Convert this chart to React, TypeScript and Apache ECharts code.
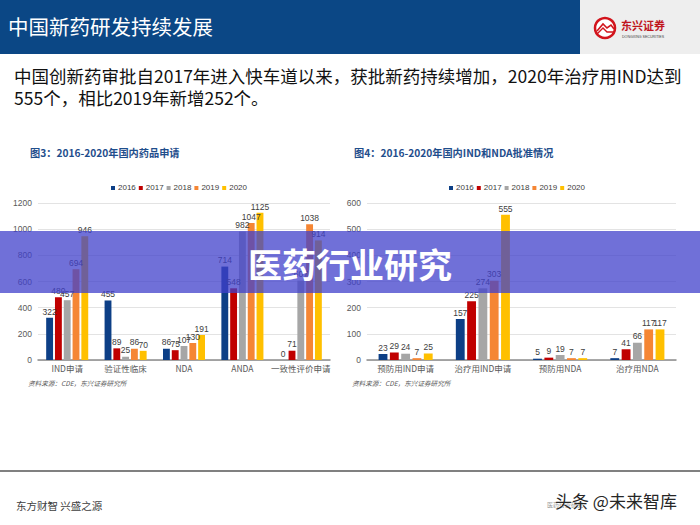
import React, { useEffect, useRef } from "react";
import * as echarts from "echarts";

// 图3：2016-2020年国内药品申请
const appCategories = ["IND申请", "验证性临床", "NDA", "ANDA", "一致性评价申请"];
const app2016 = [322, 455, 86, 714, 0];
const app2017 = [480, 89, 75, 548, 71];
const app2018 = [457, 25, 107, 982, 607];
const app2019 = [694, 86, 130, 1047, 1038];
const app2020 = [946, 70, 191, 1125, 914];

// 图4：2016-2020年国内IND和NDA批准情况
const apprCategories = ["预防用IND申请", "治疗用IND申请", "预防用NDA", "治疗用NDA"];
const appr2016 = [23, 157, 5, 7];
const appr2017 = [29, 225, 9, 41];
const appr2018 = [24, 274, 19, 66];
const appr2019 = [7, 303, 7, 117];
const appr2020 = [25, 555, 7, 117];

const years = ["2016", "2017", "2018", "2019", "2020"];
const yearColors = ["#0d3f86", "#c00000", "#a6a6a6", "#f58634", "#ffc000"];

const SANS = "'Liberation Sans', 'Noto Sans CJK SC', sans-serif";
const CJK = "'Noto Sans CJK SC', sans-serif";

function barSeries(name: string, data: number[], color: string, idx: number) {
  return {
    type: "bar",
    name,
    data,
    xAxisIndex: idx,
    yAxisIndex: idx,
    barGap: "28%",
    barCategoryGap: idx === 0 ? "28%" : "30%",
    itemStyle: { color },
    label: {
      show: true,
      position: "top",
      distance: 2,
      fontSize: 8.5,
      color: "#404040",
      fontFamily: SANS,
    },
  };
}

function buildOption() {
  const appData = [app2016, app2017, app2018, app2019, app2020];
  const apprData = [appr2016, appr2017, appr2018, appr2019, appr2020];

  const axisCommon = {
    axisLine: { lineStyle: { color: "#8c8c8c", width: 1.5 } },
    axisTick: { show: false },
    axisLabel: { fontSize: 8.5, color: "#595959", fontFamily: CJK, margin: 4, interval: 0 },
  };
  const valueAxisCommon = {
    type: "value",
    axisLine: { show: false },
    axisTick: { show: false },
    splitLine: { lineStyle: { color: "#e3e3e3", width: 1 } },
    axisLabel: {
      fontSize: 8.5,
      color: "#595959",
      fontFamily: SANS,
      margin: 6,
      formatter: (v: number) => String(v),
    },
  };

  const legendCommon = {
    data: years,
    orient: "horizontal",
    top: 179,
    itemWidth: 4,
    itemHeight: 4,
    itemGap: 3,
    icon: "rect",
    selectedMode: false,
    textStyle: { fontSize: 8, color: "#404040", fontFamily: SANS, padding: [0, 0, 0, -2] },
  };

  return {
    animation: false,
    backgroundColor: "#ffffff",
    legend: [
      { ...legendCommon, left: 106 },
      { ...legendCommon, left: 444 },
    ],
    grid: [
      { left: 38, right: 370, top: 203, bottom: 165 },
      { left: 367, right: 24, top: 203, bottom: 165 },
    ],
    xAxis: [
      { type: "category", data: appCategories, gridIndex: 0, ...axisCommon },
      { type: "category", data: apprCategories, gridIndex: 1, ...axisCommon },
    ],
    yAxis: [
      { ...valueAxisCommon, gridIndex: 0, min: 0, max: 1200, interval: 200 },
      { ...valueAxisCommon, gridIndex: 1, min: 0, max: 600, interval: 100 },
    ],
    series: [
      ...years.map((y, i) => barSeries(y, appData[i], yearColors[i], 0)),
      ...years.map((y, i) => barSeries(y, apprData[i], yearColors[i], 1)),
    ],
    graphic: [
      // header band
      { type: "rect", shape: { x: 0, y: 0, width: 580, height: 54 }, style: { fill: "#0b4785" }, z: 10 },
      { type: "rect", shape: { x: 580, y: 0, width: 120, height: 54 }, style: { fill: "#eeeeee" }, z: 10 },
      {
        type: "text", x: 8, y: 26, z: 11,
        style: { text: "中国新药研发持续发展", fill: "#ffffff", font: `20.5px ${CJK}`, textVerticalAlign: "middle" },
      },
      // company mark
      { type: "circle", shape: { cx: 605, cy: 28, r: 10 }, style: { fill: "#ffffff", stroke: "#d2141c", lineWidth: 2.5 }, z: 11 },
      { type: "polyline", shape: { points: [[597, 31], [603, 24], [607, 28], [611, 25], [614, 29]] }, style: { stroke: "#d2141c", lineWidth: 1.6, fill: "none" }, z: 12 },
      { type: "polyline", shape: { points: [[597, 34], [603, 28], [607, 32], [613, 32]] }, style: { stroke: "#d2141c", lineWidth: 1.4, fill: "none" }, z: 12 },
      {
        type: "text", x: 621, y: 25, z: 11,
        style: { text: "东兴证券", fill: "#c0161e", font: `bold 11px ${CJK}`, textVerticalAlign: "middle" },
      },
      {
        type: "text", x: 622, y: 36.5, z: 11,
        style: { text: "DONGXING SECURITIES", fill: "#404040", font: `3.6px ${SANS}`, textVerticalAlign: "middle" },
      },
      // lead paragraph
      {
        type: "text", x: 14, y: 75, z: 11,
        style: { text: "中国创新药审批自2017年进入快车道以来，获批新药持续增加，2020年治疗用IND达到", fill: "#111111", font: `17.5px ${CJK}`, textVerticalAlign: "middle" },
      },
      {
        type: "text", x: 14, y: 97, z: 11,
        style: { text: "555个，相比2019年新增252个。", fill: "#111111", font: `17.5px ${CJK}`, textVerticalAlign: "middle" },
      },
      // chart titles
      {
        type: "text", x: 30, y: 152, z: 11,
        style: { text: "图3：2016-2020年国内药品申请", fill: "#1f4e8c", font: `bold 10.2px ${CJK}`, textVerticalAlign: "middle" },
      },
      {
        type: "text", x: 354, y: 152, z: 11,
        style: { text: "图4：2016-2020年国内IND和NDA批准情况", fill: "#1f4e8c", font: `bold 10.2px ${CJK}`, textVerticalAlign: "middle" },
      },
      // sources
      {
        type: "text", x: 28, y: 383, z: 11,
        style: { text: "资料来源：CDE，东兴证券研究所", fill: "#595959", font: `italic 6.6px ${CJK}`, textVerticalAlign: "middle" },
      },
      {
        type: "text", x: 352, y: 383, z: 11,
        style: { text: "资料来源：CDE，东兴证券研究所", fill: "#595959", font: `italic 6.6px ${CJK}`, textVerticalAlign: "middle" },
      },
      // footer
      { type: "line", shape: { x1: 0, y1: 471, x2: 700, y2: 471 }, style: { stroke: "#808080", lineWidth: 2 }, z: 11 },
      {
        type: "text", x: 16, y: 505, z: 11,
        style: { text: "东方财智 兴盛之源", fill: "#404040", font: `10.5px ${CJK}`, textVerticalAlign: "middle" },
      },
      {
        type: "text", x: 547, y: 504, z: 11,
        style: { text: "医药行业研究", fill: "#9a9a9a", font: `6px ${CJK}`, textVerticalAlign: "middle" },
      },
      {
        type: "text", x: 555, y: 500, z: 12,
        style: { text: "头条 @未来智库", fill: "#262626", font: `17px ${CJK}`, textVerticalAlign: "middle" },
      },
      // overlay banner
      { type: "rect", shape: { x: 0, y: 231, width: 700, height: 62 }, style: { fill: "rgba(64,64,203,0.75)" }, z: 100 },
      {
        type: "text", x: 350, y: 263, z: 101,
        style: { text: "医药行业研究", fill: "#ffffff", font: `bold 34px ${CJK}`, textAlign: "center", textVerticalAlign: "middle" },
      },
    ],
  };
}

export default function App() {
  const ref = useRef<HTMLDivElement>(null);
  useEffect(() => {
    document.body.style.margin = "0";
    if (!ref.current) return;
    const chart = echarts.init(ref.current, null, { renderer: "svg" });
    chart.setOption(buildOption() as any);
    return () => chart.dispose();
  }, []);
  return <div ref={ref} style={{ width: 700, height: 525 }} />;
}
